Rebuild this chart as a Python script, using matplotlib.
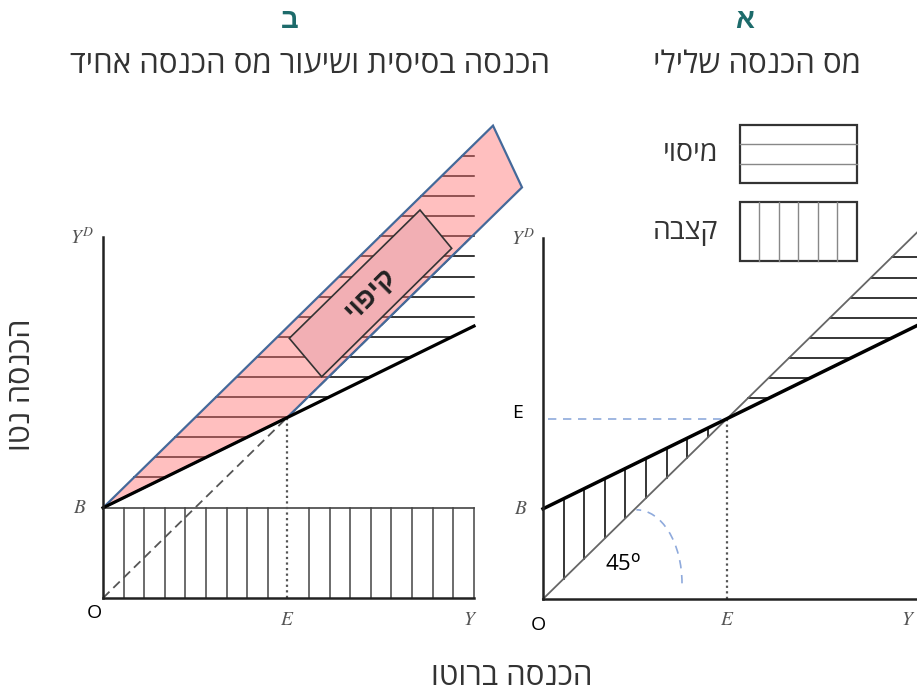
import matplotlib
matplotlib.use("Agg")
import matplotlib.pyplot as plt
import numpy as np
from matplotlib.patches import Polygon, Arc, Rectangle

plt.rcParams['font.family'] = ['Open Sans', 'Liberation Sans', 'DejaVu Sans']

# נתונים
basic_income = 0.92          # B
tax_rate = 0.5               # שיעור מס אחיד
gross_max = [3.71, 3.74]     # אורך ציר Y (ב, א)
net_axis_top = 3.68          # אורך ציר YD
kipui_top_x = 3.90           # קצה עליון של אזור הקיפוי
kipui_corner_x = 4.19        # פינה על קו 45
hatch_dx = 0.206
hatch_dy = 0.205

title_letters = ['ב', 'א']
subtitles = ['הכנסה בסיסית ושיעור מס הכנסה אחיד', 'מס הכנסה שלילי']
legend_labels = ['מיסוי', 'קצבה']
kipui_label = 'קיפוי'
x_label = 'הכנסה ברוטו'
y_label = 'הכנסה נטו'

B = basic_income
t = tax_rate
E = B / t


def heb(s):
    # matplotlib אינו תומך ב-RTL, לכן הופכים את הסדר
    return s[::-1]


def net(y):
    return B + (1 - t) * np.asarray(y)


W, H = 917, 693
fig = plt.figure(figsize=(W / 100, H / 100), dpi=100)


def px_axes(x0, x1, y0, y1):
    return fig.add_axes([x0 / W, 1 - y1 / H, (x1 - x0) / W, (y1 - y0) / H])


serif = dict(math_fontfamily='stix', color='#555555', fontsize=14)

# ---------------- פאנל ב (שמאל) ----------------
ax = px_axes(60, 540, 100, 640)
ax.set_xlim((60 - 103) / 100, (540 - 103) / 100)
ax.set_ylim((598 - 640) / 98, (598 - 100) / 98)
ax.axis('off')
ymax = gross_max[0]

# קצבה - פסים אנכיים
ax.plot([0, ymax], [B, B], color='#444444', lw=1.2, zorder=2)
for x in np.arange(1, 19) * hatch_dx:
    if abs(x - E) < 0.05:
        continue
    ax.plot([x, x], [0, B], color='#444444', lw=1.1, zorder=2)
ax.plot([E, E], [0, net(E)], color='#555555', lw=1.6, ls=(0, (1, 1.5)), zorder=2)

# מיסוי - פסים אופקיים בין B+Y לקו הנטו
for h in np.arange(6, 23) * hatch_dy:
    x0 = h - B
    x1 = min(ymax, (h - B) / (1 - t))
    ax.plot([x0, x1], [h, h], color='black', lw=1.1, zorder=2)

ax.plot([0, ymax], [0, ymax], color='#555555', lw=1.3, ls=(0, (5, 3)), zorder=2)

# אזור הקיפוי
kp = [(0, B), (kipui_top_x, B + kipui_top_x), (kipui_corner_x, kipui_corner_x), (E, E)]
ax.add_patch(Polygon(kp, closed=True, facecolor=(1, 0.45, 0.45, 0.45), edgecolor='none', zorder=3))
ax.add_patch(Polygon(kp, closed=True, facecolor='none', edgecolor='#44699A', lw=1.6, zorder=3.5))

ax.plot([0, ymax], [B, net(ymax)], color='black', lw=2.3, zorder=4)
ax.plot([0, 0], [0, net_axis_top], color='#222222', lw=1.8, zorder=4)
ax.plot([0, ymax], [0, 0], color='#222222', lw=1.8, zorder=4)

box = [(3.17, 3.959), (3.487, 3.568), (2.187, 2.258), (1.863, 2.65)]
ax.add_patch(Polygon(box, closed=True, facecolor='#F2AFB4', edgecolor='#333333', lw=1.2, zorder=5))
cx = np.mean([p[0] for p in box])
cy = np.mean([p[1] for p in box])
ax.text(cx, cy, heb(kipui_label), rotation=45, rotation_mode='anchor', ha='center', va='center',
        fontsize=20, fontweight='bold', color='#222222', zorder=6)

ax.text(-0.21, net_axis_top, r'$Y^D$', ha='center', va='center', **serif)
ax.text(-0.23, B, r'$B$', ha='center', va='center', **serif)
ax.text(E, -0.22, r'$E$', ha='center', va='center', **serif)
ax.text(ymax - 0.04, -0.22, r'$Y$', ha='center', va='center', **serif)
ax.text(-0.09, -0.15, 'O', ha='center', va='center', fontsize=14, color='black')

# ---------------- פאנל א (ימין) ----------------
ax2 = px_axes(520, 917, 100, 640)
ax2.set_xlim((520 - 543) / 100, (917 - 543) / 100)
ax2.set_ylim((599 - 640) / 98, (599 - 100) / 98)
ax2.axis('off')
ymax2 = gross_max[1]

for x in np.arange(1, 9) * hatch_dx:
    ax2.plot([x, x], [x, net(x)], color='black', lw=1.1, zorder=2)
for h in np.arange(10, 18) * hatch_dy:
    x1 = min(ymax2, (h - B) / (1 - t))
    ax2.plot([h, x1], [h, h], color='black', lw=1.1, zorder=2)

ax2.plot([0, ymax2], [0, ymax2], color='#666666', lw=1.3, zorder=3)
ax2.plot([0, ymax2], [B, net(ymax2)], color='black', lw=2.5, zorder=4)
ax2.plot([0, 0], [0, net_axis_top], color='#222222', lw=1.8, zorder=4)
ax2.plot([0, ymax2], [0, 0], color='#222222', lw=1.8, zorder=4)
ax2.plot([0.05, E], [E, E], color='#8FAADC', lw=1.2, ls=(0, (5, 4)), zorder=2)
ax2.plot([E, E], [0, E], color='#555555', lw=1.6, ls=(0, (1, 1.5)), zorder=2)
ax2.add_patch(Arc((0.934, 0.16), 0.912, 1.5, theta1=0, theta2=90, color='#8FAADC',
                  lw=1.2, ls=(0, (5, 4)), zorder=3))
ax2.text(0.80, 0.35, r'45$^{\mathrm{o}}$', ha='center', va='center', fontsize=16,
         math_fontfamily='dejavusans')

ax2.text(-0.20, net_axis_top, r'$Y^D$', ha='center', va='center', **serif)
ax2.text(-0.22, B, r'$B$', ha='center', va='center', **serif)
ax2.text(E, -0.215, r'$E$', ha='center', va='center', **serif)
ax2.text(ymax2 - 0.09, -0.215, r'$Y$', ha='center', va='center', **serif)
ax2.text(-0.25, E + 0.06, 'E', ha='center', va='center', fontsize=14, color='black')
ax2.text(-0.05, -0.27, 'O', ha='center', va='center', fontsize=14, color='black')

# מקרא
bx0, bx1 = 1.97, 3.137
for (y0, y1), lab in zip([(4.242, 4.837), (3.452, 4.048)], legend_labels):
    ax2.add_patch(Rectangle((bx0, y0), bx1 - bx0, y1 - y0, facecolor='white',
                            edgecolor='#333333', lw=1.6, zorder=5))
    ax2.text(bx0 - 0.22, (y0 + y1) / 2, heb(lab), ha='right', va='center',
             fontsize=20.5, color='#333333')
for k in (1, 2):
    yy = 4.242 + k * (4.837 - 4.242) / 3
    ax2.plot([bx0, bx1], [yy, yy], color='#888888', lw=1, zorder=6)
for k in range(1, 6):
    xx = bx0 + k * (bx1 - bx0) / 6
    ax2.plot([xx, xx], [3.452, 4.048], color='#888888', lw=1, zorder=6)

# כותרות
for xc, letter in zip([290, 745], title_letters):
    fig.text(xc / W, 1 - 20 / H, letter, ha='center', va='center', fontsize=20,
             fontweight='bold', color='#1D6B6B')
for xc, sub in zip([310, 757], subtitles):
    fig.text(xc / W, 1 - 65 / H, heb(sub), ha='center', va='center', fontsize=22.5, color='#333333')

fig.text(512 / W, 1 - 677 / H, heb(x_label), ha='center', va='center', fontsize=22.5, color='#333333')
fig.text(22 / W, 1 - 385 / H, heb(y_label), ha='center', va='center', rotation=90,
         fontsize=22, color='#333333')

fig.savefig('out.png', dpi=100)
